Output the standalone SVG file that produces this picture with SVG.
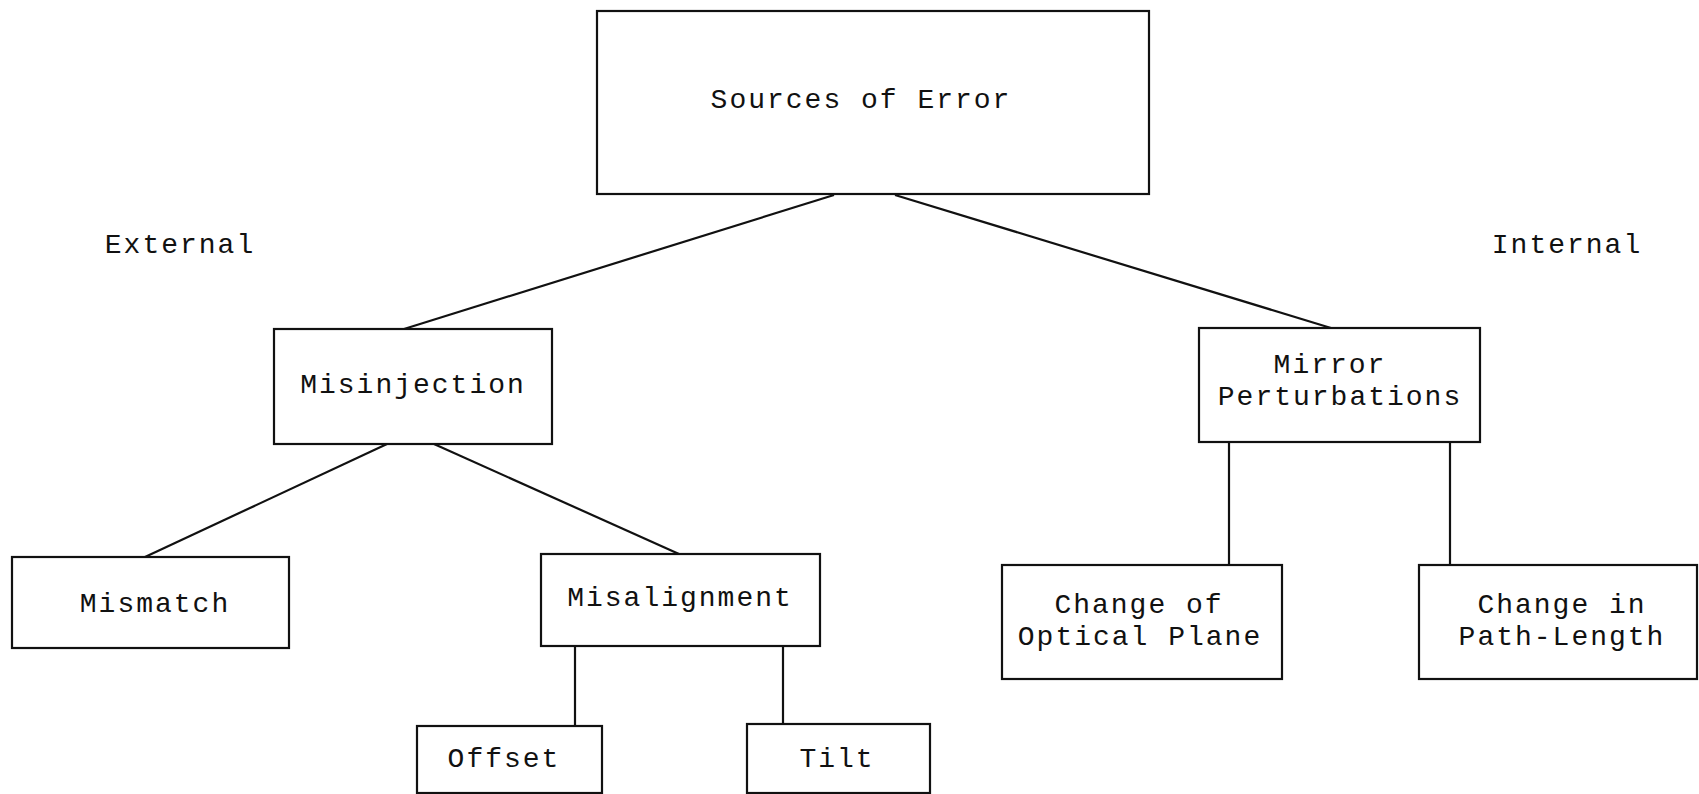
<svg xmlns="http://www.w3.org/2000/svg" width="1699" height="794" viewBox="0 0 1699 794">
<style>
rect.box{fill:#fff;stroke:#111;stroke-width:2.2}
.t{font-family:"Liberation Mono","Courier New",monospace;font-size:28px;letter-spacing:2px;fill:#111;text-anchor:middle}
#connectors line{stroke:#111;stroke-width:2.2;fill:none}
</style>
<rect width="1699" height="794" fill="#fff"/>
<g id="connectors">
<line x1="834" y1="195" x2="404" y2="329"/>
<line x1="895" y1="195" x2="1331" y2="328"/>
<line x1="387" y1="444" x2="145" y2="557"/>
<line x1="434" y1="444" x2="679" y2="554"/>
<line x1="575" y1="646" x2="575" y2="726"/>
<line x1="783" y1="646" x2="783" y2="723"/>
<line x1="1229" y1="442" x2="1229" y2="565"/>
<line x1="1450" y1="442" x2="1450" y2="565"/>
</g>
<g id="root"><rect class="box" x="597" y="11" width="552" height="183"/><text class="t" x="861" y="108">Sources of Error</text></g>
<g id="label-external"><text class="t" x="180" y="253">External</text></g>
<g id="label-internal"><text class="t" x="1567" y="253">Internal</text></g>
<g id="misinjection"><rect class="box" x="274" y="329" width="278" height="115"/><text class="t" x="413" y="393">Misinjection</text></g>
<g id="mirror"><rect class="box" x="1199" y="328" width="281" height="114"/><text class="t" x="1330" y="373">Mirror</text><text class="t" x="1340" y="405">Perturbations</text></g>
<g id="mismatch"><rect class="box" x="12" y="557" width="277" height="91"/><text class="t" x="155" y="612">Mismatch</text></g>
<g id="misalignment"><rect class="box" x="541" y="554" width="279" height="92"/><text class="t" x="680" y="606">Misalignment</text></g>
<g id="offset"><rect class="box" x="417" y="726" width="185" height="67"/><text class="t" x="504" y="767">Offset</text></g>
<g id="tilt"><rect class="box" x="747" y="724" width="183" height="69"/><text class="t" x="837" y="767">Tilt</text></g>
<g id="optical"><rect class="box" x="1002" y="565" width="280" height="114"/><text class="t" x="1139" y="613">Change of</text><text class="t" x="1140" y="645">Optical Plane</text></g>
<g id="pathlength"><rect class="box" x="1419" y="565" width="278" height="114"/><text class="t" x="1562" y="613">Change in</text><text class="t" x="1562" y="645">Path-Length</text></g>
</svg>
